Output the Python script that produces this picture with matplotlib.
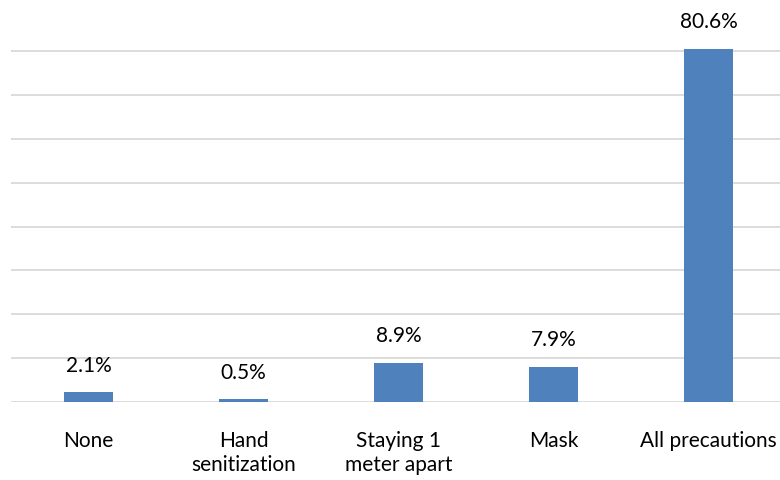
import matplotlib
matplotlib.use("Agg")
import matplotlib.pyplot as plt
import numpy as np

# data
categories = ["None", "Hand\nsenitization", "Staying 1\nmeter apart", "Mask", "All precautions"]
values = [2.1, 0.5, 8.9, 7.9, 80.6]
labels = ["2.1%", "0.5%", "8.9%", "7.9%", "80.6%"]
yticks = [0, 10, 20, 30, 40, 50, 60, 70, 80]

plt.rcParams['font.family'] = ['Lato', 'DejaVu Sans']

fig = plt.figure(figsize=(7.8, 4.8), dpi=100)
ax = fig.add_axes([0.0141, 0.1635, 0.9936, 0.8204])

x = np.arange(len(categories))
bars = ax.bar(x, values, width=0.31, color='#4F81BD', zorder=3)

for b, lab in zip(bars, labels):
    ax.annotate(lab, (b.get_x() + b.get_width() / 2, b.get_height()),
                xytext=(0, 12), textcoords='offset points',
                ha='center', va='bottom', fontsize=15, color='#000000')

ax.set_xlim(-0.5, len(categories) - 0.5)
ax.set_ylim(0, 90)
ax.set_yticks(yticks)
ax.yaxis.grid(True, color='#D9D9D9', linewidth=1.3, zorder=0)
ax.set_yticklabels([])
ax.tick_params(axis='y', length=0)
ax.set_xticks(x)
ax.set_xticklabels(categories, fontsize=15, linespacing=1.3)
ax.tick_params(axis='x', length=0, pad=21)
for s in ax.spines.values():
    s.set_visible(False)

fig.savefig("out.png", dpi=100)
